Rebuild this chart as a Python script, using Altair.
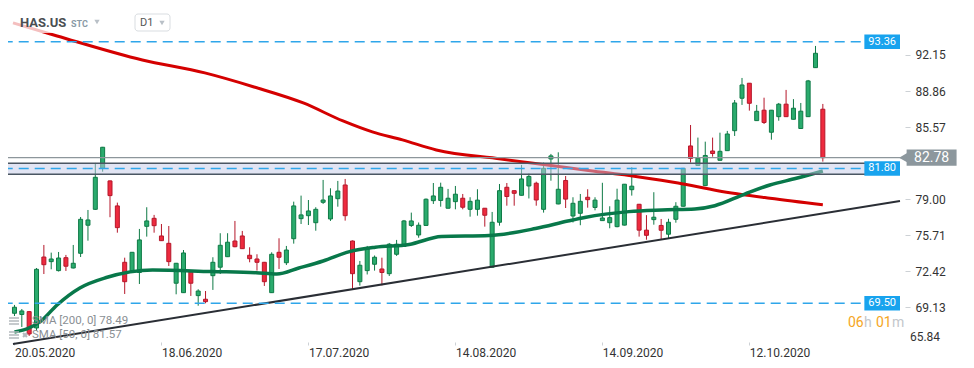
import altair as alt
import pandas as pd

# ---- candle data, one candle per trading day ----
opens = [
    68.59, 68.48, 68.74, 67.25, 73.72, 73.30, 72.48, 73.66, 72.72, 74.06,
    76.62, 78.07, 81.81, 80.66, 78.38, 73.24, 72.48, 72.31, 76.52, 77.25,
    75.64, 74.97, 71.33, 70.47, 72.38, 70.20, 69.87, 72.02, 72.79, 73.75,
    75.18, 75.64, 73.88, 73.54, 73.24, 70.47, 74.15, 73.20, 75.39, 77.22,
    77.49, 76.85, 78.71, 77.19, 79.04, 80.29, 75.18, 71.47, 72.48, 73.06,
    72.63, 72.20, 73.97, 74.68, 76.60, 75.73, 76.60, 78.86, 78.88, 78.17,
    78.77, 79.08, 78.07, 78.07, 78.17, 72.79, 76.89, 80.08, 79.77, 79.35,
    80.20, 80.45, 78.07, 82.66, 78.56, 80.70, 77.46, 77.71, 79.17, 78.24,
    77.04, 76.85, 76.49, 76.63, 79.86, 78.53, 76.17, 77.13, 76.60, 75.80,
    77.16, 78.35, 83.85, 82.07, 80.23, 83.39, 82.54, 83.42, 85.24, 88.20,
    89.57, 86.16, 87.11, 85.10, 86.52, 87.66, 86.28, 85.44, 86.52, 90.99,
    87.20]
highs = [
    69.35, 68.98, 68.80, 72.72, 74.82, 74.12, 74.18, 73.91, 74.82, 77.37,
    78.01, 82.30, 83.76, 80.70, 78.68, 73.66, 74.18, 76.28, 78.26, 77.56,
    76.73, 76.55, 73.18, 74.36, 72.40, 70.78, 70.62, 73.70, 75.89, 75.89,
    77.01, 76.10, 74.61, 73.97, 73.27, 74.15, 75.43, 74.73, 78.77, 79.32,
    78.92, 78.26, 80.75, 79.99, 80.66, 80.84, 75.23, 73.36, 74.73, 73.86,
    73.66, 75.00, 75.28, 77.10, 77.77, 76.87, 79.06, 80.47, 80.50, 79.93,
    80.20, 79.47, 79.17, 79.90, 78.19, 77.83, 80.38, 80.47, 79.79, 82.12,
    81.34, 80.59, 82.33, 83.12, 83.27, 81.11, 79.17, 79.47, 79.90, 79.17,
    80.49, 78.35, 79.95, 80.38, 81.91, 78.56, 77.54, 79.63, 77.19, 77.21,
    78.72, 81.84, 85.76, 84.61, 84.24, 84.61, 85.06, 85.22, 88.04, 90.05,
    89.59, 87.59, 88.25, 87.13, 87.77, 88.96, 88.12, 87.77, 89.87, 92.97,
    87.68]
lows = [
    68.34, 67.34, 66.52, 66.98, 72.17, 72.60, 72.40, 72.45, 72.68, 73.72,
    75.21, 78.01, 81.50, 77.35, 75.94, 70.35, 72.36, 71.26, 75.58, 75.94,
    75.18, 72.90, 70.32, 70.44, 70.17, 69.28, 69.50, 70.72, 72.17, 73.72,
    74.61, 74.45, 73.24, 72.48, 71.08, 70.44, 72.63, 72.99, 74.94, 76.73,
    76.64, 76.12, 78.56, 77.01, 78.31, 77.04, 70.78, 71.11, 72.13, 72.48,
    71.13, 71.99, 73.82, 74.66, 76.46, 75.48, 76.55, 78.56, 78.31, 78.15,
    78.07, 78.07, 77.40, 77.49, 76.49, 72.77, 76.58, 78.40, 78.40, 79.33,
    79.06, 78.40, 77.77, 80.68, 78.53, 78.19, 76.87, 76.62, 78.22, 77.98,
    77.04, 76.34, 76.43, 76.60, 79.32, 75.58, 75.30, 76.67, 75.28, 75.38,
    76.85, 78.33, 82.33, 82.05, 80.23, 82.87, 82.53, 83.42, 84.76, 87.59,
    87.07, 86.15, 85.85, 84.42, 86.15, 86.50, 86.26, 85.43, 86.49, 90.96,
    82.42]
closes = [
    69.14, 68.80, 66.70, 72.60, 73.02, 73.54, 73.63, 72.88, 73.15, 77.16,
    77.10, 80.99, 83.73, 79.32, 76.40, 71.47, 74.15, 75.28, 77.01, 76.58,
    75.21, 73.30, 73.15, 74.09, 71.33, 70.62, 69.65, 73.24, 74.79, 75.07,
    74.66, 74.48, 73.57, 73.24, 71.47, 73.97, 73.70, 74.36, 78.38, 77.56,
    77.92, 78.07, 78.92, 79.29, 79.74, 77.49, 72.20, 72.97, 74.45, 73.70,
    72.31, 74.89, 74.89, 77.01, 77.01, 76.62, 78.99, 79.29, 80.08, 79.08,
    79.45, 78.26, 78.80, 78.91, 77.53, 76.89, 79.77, 79.24, 79.53, 80.84,
    81.07, 78.92, 81.81, 82.94, 79.90, 79.00, 78.62, 78.80, 78.95, 78.91,
    77.28, 77.31, 78.91, 80.36, 80.18, 76.17, 75.70, 77.35, 76.16, 76.89,
    78.35, 81.81, 82.71, 82.74, 82.98, 83.16, 83.36, 84.94, 87.77, 89.41,
    87.74, 87.01, 85.99, 87.11, 87.66, 86.52, 87.29, 87.02, 89.78, 92.30,
    82.78]

tick_idx = [0, 20, 40, 60, 80, 100]
tick_labels = ["20.05.2020", "18.06.2020", "17.07.2020", "14.08.2020",
               "14.09.2020", "12.10.2020"]
y_ticks = [92.15, 88.86, 85.57, 79.00, 75.71, 72.42, 69.13]
y_bottom_label = 65.84

sma200_i = [-0.2, 5.8, 17.4, 25.9, 32.6, 39.3, 44.7, 48.7, 52.8, 57.4,
            66.2, 77.6, 85.0, 90.3, 95.7, 102.8, 110]
sma200_v = [95.07, 93.88, 91.69, 90.51, 89.23, 87.77, 86.13, 85.13, 84.40,
            83.48, 82.66, 81.66, 81.02, 80.47, 79.77, 79.08, 78.49]
sma50_i = [0, 1.7, 3.5, 5.8, 8.9, 12.5, 18.8, 26.8, 32.9, 35.7, 38.7, 42.0,
           45.6, 49.1, 53.7, 58.1, 64.6, 70.9, 75.3, 77.6, 83.6, 88.1, 92.6,
           95.3, 99.3, 102.8, 106.4, 110]
sma50_v = [66.89, 67.16, 67.82, 69.35, 70.90, 71.85, 72.54, 72.40, 72.29,
           72.17, 72.72, 73.36, 74.21, 74.61, 74.87, 75.59, 75.68, 76.32,
           77.00, 77.33, 77.86, 78.01, 78.10, 78.40, 79.44, 80.29, 80.90, 81.57]
trend_i = [-0.2, 120.5]
trend_v = [65.79, 78.83]

levels = [93.36, 81.80, 69.50]
band_low, band_high = 81.27, 82.27
last_price = 82.78
sma200_last = 78.49
sma50_last = 81.57

# ---- layout constants ----
X_MIN, X_MAX = -0.2, 120.5
Y_MIN, Y_MAX = 65.97, 96.43
LEFT_OUT = -1.6
LINE_END = 115.6
FONT = "Roboto"

assert len(opens) == len(highs) == len(lows) == len(closes)
n = len(opens)
cdf = pd.DataFrame({"i": list(range(n)), "open": opens, "high": highs,
                    "low": lows, "close": closes})
cdf["dir"] = ["up" if c >= o else "down" for o, c in zip(opens, closes)]

xs = alt.Scale(domain=[X_MIN, X_MAX], nice=False, zero=False)
ys = alt.Scale(domain=[Y_MIN, Y_MAX], nice=False, zero=False)

label_expr = ("[" + ",".join(f"'{t}'" for t in tick_labels) + "][indexof(["
              + ",".join(str(t) for t in tick_idx) + "], datum.value)]")
x_axis = alt.Axis(values=tick_idx, labelExpr=label_expr, title=None, grid=False,
                  domain=False, tickSize=3, tickColor="#cdd1d5",
                  labelColor="#333333", labelFontSize=12, labelFont=FONT,
                  labelAlign="left", labelPadding=2, labelFlush=False,
                  labelOverlap=False)
y_axis = alt.Axis(orient="right", values=y_ticks, format=".2f", title=None,
                  grid=False, domain=False, tickSize=5, tickColor="#cdd1d5",
                  labelColor="#333333", labelFontSize=12, labelFont=FONT,
                  labelPadding=5)


def X(f):
    return alt.X(f, type="quantitative", scale=xs, axis=x_axis)


def Y(f):
    return alt.Y(f, type="quantitative", scale=ys, axis=y_axis)


up_dn = ["up", "down"]
edge = alt.Scale(domain=up_dn, range=["#0f7a46", "#b5172a"])
body = alt.Scale(domain=up_dn, range=["#2aab6d", "#ee2a3e"])

wicks = alt.Chart(cdf).mark_rule(strokeWidth=1).encode(
    x=X("i"), y=Y("low"), y2="high",
    color=alt.Color("dir:N", scale=edge, legend=None))
bodies = alt.Chart(cdf).mark_bar(size=4, strokeWidth=1).encode(
    x=X("i"), y=Y("open"), y2="close",
    fill=alt.Fill("dir:N", scale=body, legend=None),
    stroke=alt.Stroke("dir:N", scale=edge, legend=None))

s200 = alt.Chart(pd.DataFrame({"i": sma200_i, "v": sma200_v})).mark_line(
    color="#d40000", strokeWidth=3, interpolate="monotone").encode(
    x=X("i"), y=Y("v"))
s50 = alt.Chart(pd.DataFrame({"i": sma50_i, "v": sma50_v})).mark_line(
    color="#08784a", strokeWidth=3.5, interpolate="monotone").encode(
    x=X("i"), y=Y("v"))
trend = alt.Chart(pd.DataFrame({"i": trend_i, "v": trend_v})).mark_line(
    color="#2a2e35", strokeWidth=2).encode(x=X("i"), y=Y("v"))

one = pd.DataFrame({"a": [0]})
header_bg = alt.Chart(one).mark_rect(color="white", opacity=0.75).encode(
    x=alt.value(0), x2=alt.value(172), y=alt.value(0), y2=alt.value(25))

band = alt.Chart(pd.DataFrame({"x0": [LEFT_OUT], "x1": [115.92],
                               "y0": [band_low], "y1": [band_high]})).mark_rect(
    fill="#c3c9e8", fillOpacity=0.5, stroke="#4b5663", strokeWidth=1.5).encode(
    x=X("x0"), x2="x1", y=Y("y0"), y2="y1")

ldf = pd.DataFrame({"v": levels, "txt": [f"{v:.2f}" for v in levels]})
ldf["x0"] = LEFT_OUT
ldf["x1"] = LINE_END
ldf["bx0"] = 115.65
ldf["bx1"] = X_MAX
ldf["tx"] = (115.65 + X_MAX) / 2
ldf["b0"] = ldf["v"] - 0.66
ldf["b1"] = ldf["v"] + 0.66

dashed = alt.Chart(ldf).mark_rule(color="#2fa6ea", strokeWidth=1.5,
                                  strokeDash=[10, 6]).encode(
    x=X("x0"), x2="x1", y=Y("v"))
lbox = alt.Chart(ldf).mark_rect(color="#18a3ee").encode(
    x=X("bx0"), x2="bx1", y=Y("b0"), y2="b1")
ltxt = alt.Chart(ldf).mark_text(color="white", fontSize=11, font=FONT).encode(
    x=X("tx"), y=Y("v"), text="txt:N")

pdf = pd.DataFrame({"v": [last_price], "x0": [LEFT_OUT], "x1": [120.9],
                    "ax": [121.1], "bx0": [121.4], "bx1": [128.2],
                    "tx": [124.8], "b0": [last_price - 0.74],
                    "b1": [last_price + 0.74],
                    "txt": [f"{last_price:.2f}"]})
pline = alt.Chart(pdf).mark_rule(color="#8d969b", strokeWidth=1.2).encode(
    x=X("x0"), x2="x1", y=Y("v"))
parrow = alt.Chart(pdf).mark_point(shape="triangle-left", filled=True,
                                   color="#8c979d", opacity=1, size=150).encode(
    x=X("ax"), y=Y("v"))
pbox = alt.Chart(pdf).mark_rect(color="#8c979d").encode(
    x=X("bx0"), x2="bx1", y=Y("b0"), y2="b1")
ptxt = alt.Chart(pdf).mark_text(color="white", fontSize=14, font=FONT).encode(
    x=X("tx"), y=Y("v"), text="txt:N")

# bottom tick label that sits just under the plot edge
bdf = pd.DataFrame({"v": [y_bottom_label], "x": [121.85],
                    "txt": [f"{y_bottom_label:.2f}"]})
blabel = alt.Chart(bdf).mark_text(color="#333333", fontSize=12, font=FONT,
                                  align="left", dy=-6).encode(
    x=X("x"), y=Y("v"), text="txt:N")


def label(txt, x, y, size=11, color="#555", weight="normal", align="left"):
    return alt.Chart(one).mark_text(
        text=txt, fontSize=size, color=color, fontWeight=weight, align=align,
        baseline="middle", font=FONT).encode(x=alt.value(x), y=alt.value(y))


def icon_lines(y):
    return [alt.Chart(one).mark_rule(color="#b3b8bd", strokeWidth=1.5).encode(
        x=alt.value(1), x2=alt.value(11), y=alt.value(y + d))
        for d in (-3, 0, 3)]


d1_box = alt.Chart(one).mark_rect(fill="white", stroke="#d9dde1",
                                  cornerRadius=3).encode(
    x=alt.value(127), x2=alt.value(162), y=alt.value(6), y2=alt.value(23))
tri1 = alt.Chart(one).mark_point(shape="triangle-down", filled=True,
                                 color="#b9c0c7", opacity=1, size=28).encode(
    x=alt.value(89), y=alt.value(14))
tri2 = alt.Chart(one).mark_point(shape="triangle-down", filled=True,
                                 color="#b9c0c7", opacity=1, size=28).encode(
    x=alt.value(154), y=alt.value(15))
cross = alt.Chart(one).mark_point(shape="cross", angle=45, filled=True,
                                  color="#b3b8bd", opacity=1, size=30).encode(
    x=alt.value(17), y=alt.value(327))

header = [
    label("HAS.US", 12, 15, size=13, color="#4a4e52", weight="bold"),
    label("STC", 63, 16, size=9, color="#8a9aa6", weight="bold"),
    d1_box, tri1, tri2,
    label("D1", 132, 15, size=11, color="#555"),
]
legend = icon_lines(313) + icon_lines(327) + [
    cross,
    label(f"SMA [200, 0] {sma200_last:.2f}", 24, 313, size=11.5, color="#8a8f94"),
    label(f"SMA [50, 0] {sma50_last:.2f}", 24, 327, size=11.5, color="#8a8f94"),
]
timer = [
    label("06", 840, 315, size=14, color="#f5a623"),
    label("h", 856, 315, size=14, color="#c3c7cb"),
    label("01", 868, 315, size=14, color="#f5a623"),
    label("m", 884, 315, size=14, color="#c3c7cb"),
]

chart = alt.layer(
    wicks, bodies, s200, s50, trend, header_bg, band, dashed, pline,
    lbox, ltxt, parrow, pbox, ptxt, blabel, *header, *legend, *timer
).properties(
    width=897, height=334,
    autosize=alt.AutoSizeParams(type="none"),
    padding={"left": 0, "top": 0, "right": 61, "bottom": 16},
    background="white",
).configure_view(stroke=None)

chart.save("out.html", embed_options={"renderer": "svg", "actions": False})
